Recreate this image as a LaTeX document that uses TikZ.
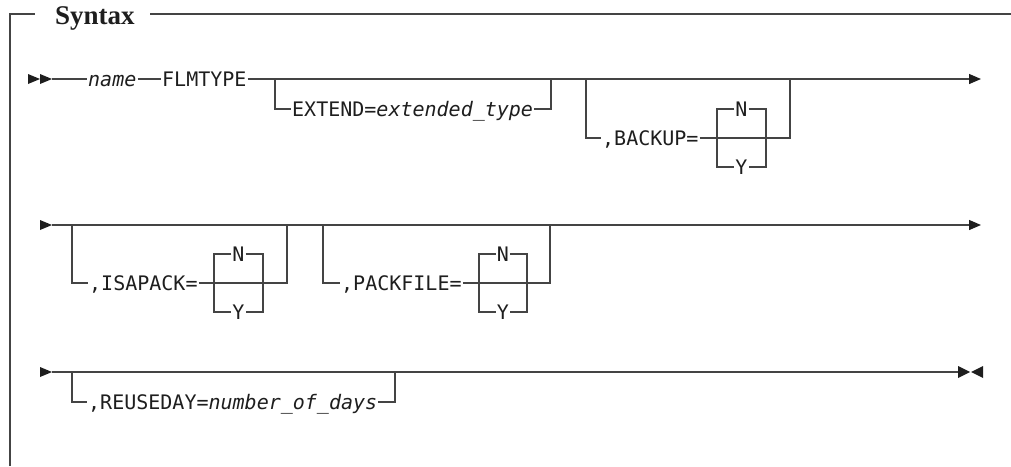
\documentclass[tikz,border=0pt]{standalone}
\usepackage{fontspec}
\usepackage{xcolor}
\usepackage{tikz}
\usetikzlibrary{arrows.meta}
\newfontfamily\synfont{DejaVu Sans Mono}
\newfontfamily\ttlfont{Liberation Serif}
\definecolor{rule}{HTML}{444444}
\definecolor{ink}{HTML}{1E1E1E}

\begin{document}
\begin{tikzpicture}[x=1pt, y=-1pt,
  ln/.style={line width=1.3pt, draw=rule},
  frm/.style={line width=1.2pt, draw=rule},
  syn/.style={font=\synfont\fontsize{20}{24}\selectfont, text=ink, inner xsep=1pt, inner ysep=0pt, text height=14.6pt, text depth=0pt, anchor=west},
  opt/.style={syn, anchor=center},
  ttl/.style={font=\ttlfont\bfseries\fontsize{27}{30}\selectfont, text=ink, inner sep=0pt, anchor=base west},
  tip/.style={fill=ink},
  endarr/.style={-{Triangle[length=12pt, width=10pt, color=ink]}}]
  \useasboundingbox (0,0) rectangle (1011,466);

  % Frame and title
  \node[ttl] (ttl) at (55,24) {Syntax};
  \coordinate (fb) at (10,466);
  \coordinate (fl) at (35,14);
  \coordinate (fm) at (150,14);
  \coordinate (fr) at (1011,14);
  \draw[frm] (fb) |- (fl);
  \draw[frm] (fm) -- (fr);

  % Row 1
  \fill[tip] (28,74) -- (40,79) -- (28,84) -- cycle;
  \fill[tip] (40,74) -- (52,79) -- (40,84) -- cycle;
  \coordinate (s1) at (52,79);
  \coordinate (e1) at (981,79);
  \node[syn] (name) at (87,79) {\itshape name};
  \node[syn] (flm) at (161,79) {FLMTYPE};
  \draw[ln] (s1) -- (name.west);
  \draw[ln] (name.east) -- (flm.west);
  \draw[ln, endarr] (flm.east) -- (e1);

  % EXTEND= branch
  \coordinate (xl) at (275,79);
  \coordinate (xr) at (551,79);
  \node[syn] (ext) at (291,109) {EXTEND=\textit{extended\_type}};
  \draw[ln] (xl) |- (ext.west);
  \draw[ln] (ext.east) -| (xr);

  % ,BACKUP= branch
  \coordinate (bl) at (586,79);
  \coordinate (br) at (790,79);
  \coordinate (bkl) at (717,138);
  \coordinate (bkr) at (766,138);
  \node[syn] (bak) at (601,138) {,BACKUP=};
  \node[opt] (bakN) at (741.5,109) {N};
  \node[opt] (bakY) at (741.5,167) {Y};
  \draw[ln] (bl) |- (bak.west);
  \draw[ln] (bak.east) -| (br);
  \draw[ln] (bakN.west) -| (bkl) |- (bakY.west);
  \draw[ln] (bakN.east) -| (bkr) |- (bakY.east);

  % Row 2
  \fill[tip] (40,220) -- (52,225) -- (40,230) -- cycle;
  \coordinate (s2) at (52,225);
  \coordinate (e2) at (981,225);
  \draw[ln, endarr] (s2) -- (e2);

  % ,ISAPACK= branch
  \coordinate (il) at (72,225);
  \coordinate (ir) at (287,225);
  \coordinate (ikl) at (214,283);
  \coordinate (ikr) at (263,283);
  \node[syn] (isa) at (88,283) {,ISAPACK=};
  \node[opt] (isaN) at (238.5,254) {N};
  \node[opt] (isaY) at (238.5,312) {Y};
  \draw[ln] (il) |- (isa.west);
  \draw[ln] (isa.east) -| (ir);
  \draw[ln] (isaN.west) -| (ikl) |- (isaY.west);
  \draw[ln] (isaN.east) -| (ikr) |- (isaY.east);

  % ,PACKFILE= branch
  \coordinate (pl) at (323,225);
  \coordinate (pr) at (550,225);
  \coordinate (pkl) at (479,283);
  \coordinate (pkr) at (527,283);
  \node[syn] (pck) at (340,283) {,PACKFILE=};
  \node[opt] (pckN) at (503,254) {N};
  \node[opt] (pckY) at (503,312) {Y};
  \draw[ln] (pl) |- (pck.west);
  \draw[ln] (pck.east) -| (pr);
  \draw[ln] (pckN.west) -| (pkl) |- (pckY.west);
  \draw[ln] (pckN.east) -| (pkr) |- (pckY.east);

  % Row 3
  \fill[tip] (40,367) -- (52,372) -- (40,377) -- cycle;
  \coordinate (s3) at (52,372);
  \coordinate (e3) at (958,372);
  \draw[ln] (s3) -- (e3);
  \fill[tip] (958,366) -- (970,372) -- (958,378) -- cycle;
  \fill[tip] (983,366) -- (971,372) -- (983,378) -- cycle;

  % ,REUSEDAY= branch
  \coordinate (rl) at (72,372);
  \coordinate (rr) at (395,372);
  \node[syn] (reu) at (87,402) {,REUSEDAY=\textit{number\_of\_days}};
  \draw[ln] (rl) |- (reu.west);
  \draw[ln] (reu.east) -| (rr);
\end{tikzpicture}
\end{document}
